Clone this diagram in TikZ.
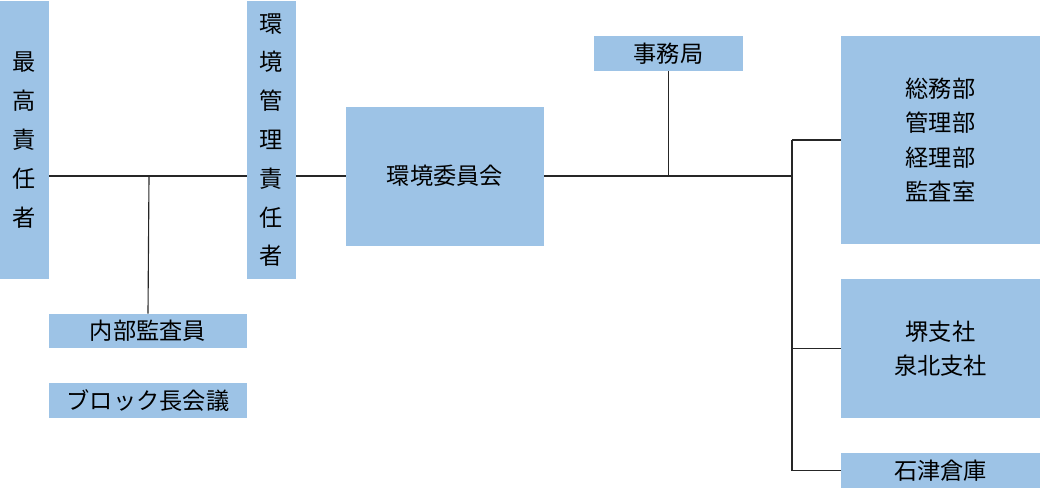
\documentclass[tikz,border=0pt]{standalone}
\usepackage{fontspec}
\setmainfont{Noto Sans CJK JP}
\definecolor{boxblue}{HTML}{9DC3E6}

\begin{document}
\begin{tikzpicture}[x=0.025cm,y=-0.025cm,
    kasten/.style={fill=boxblue, inner sep=0pt, align=center,
      font=\fontsize{16.5}{24.5}\selectfont},
    tate/.style={kasten, minimum width=49*0.025cm, minimum height=278*0.025cm,
      font=\fontsize{16.5}{27.6}\selectfont},
    linie/.style={line width=0.8pt, black!85},
]
\useasboundingbox (0,0) rectangle (1040,488);

\node[tate] (top) at (24.5,140){最\\高\\責\\任\\者};
\node[tate] (emr) at (271.5,140){環\\境\\管\\理\\責\\任\\者};
\node[kasten, minimum width=198*0.025cm, minimum height=34*0.025cm] (iac) at (148,331){内部監査員};
\node[kasten, minimum width=198*0.025cm, minimum height=35*0.025cm] (blk) at (148,400.5){ブロック長会議};
\node[kasten, minimum width=198*0.025cm, minimum height=139*0.025cm] (cmt) at (445,176){環境委員会};
\node[kasten, minimum width=149*0.025cm, minimum height=35*0.025cm] (sec) at (668.5,53.5){事務局};
\node[kasten, minimum width=199*0.025cm, minimum height=208*0.025cm] (gen) at (940.5,140){総務部\\管理部\\経理部\\監査室};
\node[kasten, minimum width=199*0.025cm, minimum height=139*0.025cm] (brn) at (940.5,348.5){堺支社\\泉北支社};
\node[kasten, minimum width=199*0.025cm, minimum height=35*0.025cm] (soko) at (940.5,470.5){石津倉庫};

\coordinate (j1) at (149,176);
\coordinate (bus) at (792,176);

\draw[linie] (top.east |- j1) -- (emr.west |- j1);
\draw[linie] (j1) -- (iac.north);
\draw[linie] (emr.east |- j1) -- (cmt.west);
\draw[linie] (cmt.east) -- (bus);
\draw[linie] (sec.south) -- (sec.south |- bus);
\draw[linie] (bus |- gen.west) -- (bus |- soko.west);
\draw[linie] (bus |- gen.west) -- (gen.west);
\draw[linie] (bus |- brn.west) -- (brn.west);
\draw[linie] (bus |- soko.west) -- (soko.west);

\end{tikzpicture}
\end{document}
